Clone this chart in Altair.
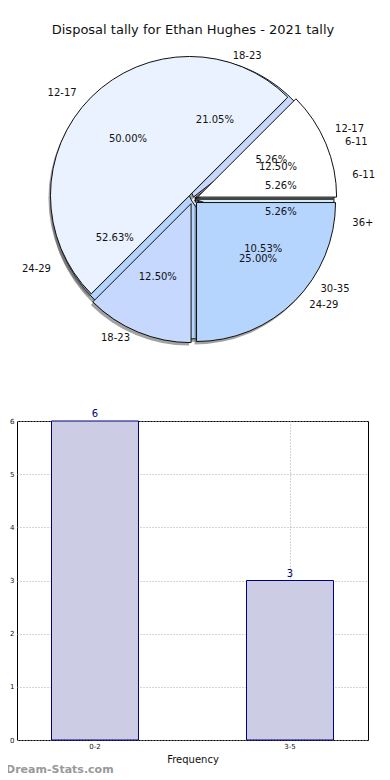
import math
import altair as alt
import numpy as np
import pandas as pd

# ---------------- data ----------------
title_text = "Disposal tally for Ethan Hughes - 2021 tally"

# pie drawn on top (8 entries)
pie_a_labels = ["6-11", "12-17", "18-23", "24-29"]
pie_a_counts = [1, 4, 1, 2]

# pie drawn underneath (19 entries)
pie_b_labels = ["6-11", "12-17", "18-23", "24-29", "30-35", "36+"]
pie_b_counts = [1, 1, 4, 10, 2, 1]

category_order = ["6-11", "12-17", "18-23", "24-29", "30-35", "36+"]
category_colors = ["#FFFFFF", "#EAF1FF", "#C6D8FE", "#B6D5FE", "#A9CCF8", "#D3EEF2"]

bar_labels = ["0-2", "3-5"]
bar_values = [6, 3]
watermark = "Dream-Stats.com"


def pie_frame(labels, counts):
    c = np.array(counts, dtype=float)
    tot = c.sum()
    end = np.cumsum(c) / tot
    start = end - c / tot
    return pd.DataFrame({
        "cat": labels,
        "count": counts,
        "start": start,
        "end": end,
        "mid": (start + end) / 2,
        "pct": [f"{v * 100 / tot:.2f}%" for v in c],
    })


df_a = pie_frame(pie_a_labels, pie_a_counts)
df_b = pie_frame(pie_b_labels, pie_b_counts)

# ---------------- pie panel ----------------
PANEL_W = 351
CX, CY, R = 176, 191, 139
RX, RY = 145, 132  # label ellipse (reference pie is slightly oval)
FONT = "DejaVu Sans"

theta_scale = alt.Scale(domain=[0, 1], range=[2.5 * math.pi, 0.5 * math.pi])
color_scale = alt.Scale(domain=category_order, range=category_colors)


def centered(chart, explode, dx=0, dy=0):
    return chart.transform_calculate(
        cx=f"{CX + dx} + {explode}*cos(2*PI*datum.mid)",
        cy=f"{CY + dy} - {explode}*sin(2*PI*datum.mid)",
    ).encode(
        x=alt.X("cx:Q", scale=None, axis=None),
        y=alt.Y("cy:Q", scale=None, axis=None),
    )


def placed(chart, explode, k):
    return chart.transform_calculate(
        tx=f"{CX} + {explode}*cos(2*PI*datum.mid) + {k * RX}*cos(2*PI*datum.mid)",
        ty=f"{CY} - {explode}*sin(2*PI*datum.mid) - {k * RY}*sin(2*PI*datum.mid)",
    ).encode(
        x=alt.X("tx:Q", scale=None, axis=None),
        y=alt.Y("ty:Q", scale=None, axis=None),
    )


def wedges(df, explode):
    base = alt.Chart(df)
    shadow = centered(
        base.mark_arc(radius=R, color="#555555", opacity=0.55),
        explode, dx=-2, dy=3,
    ).encode(
        theta=alt.Theta("start:Q", scale=theta_scale),
        theta2=alt.Theta2("end:Q"),
    )
    arcs = centered(
        base.mark_arc(radius=R, stroke="#111111", strokeWidth=1),
        explode,
    ).encode(
        theta=alt.Theta("start:Q", scale=theta_scale),
        theta2=alt.Theta2("end:Q"),
        color=alt.Color("cat:N", scale=color_scale, legend=None),
    )
    return shadow, arcs


def labels(df, explode):
    base = alt.Chart(df)
    style = dict(baseline="middle", fontSize=10, font=FONT, color="#111111")
    right = placed(
        base.transform_filter("cos(2*PI*datum.mid) >= 0").mark_text(align="left", **style),
        explode, 1.1,
    ).encode(text="cat:N")
    left = placed(
        base.transform_filter("cos(2*PI*datum.mid) < 0").mark_text(align="right", **style),
        explode, 1.1,
    ).encode(text="cat:N")
    pct = placed(
        base.mark_text(align="center", **style),
        explode, 0.6,
    ).encode(text="pct:N")
    return right, left, pct


sh_b, arc_b = wedges(df_b, 2)
sh_a, arc_a = wedges(df_a, 5)
lr_b, ll_b, pc_b = labels(df_b, 2)
lr_a, ll_a, pc_a = labels(df_a, 5)

title_mark = alt.Chart(pd.DataFrame({"t": [title_text]})).mark_text(
    fontSize=13, font=FONT, color="#111111", align="center", baseline="middle"
).encode(text="t:N", x=alt.value(CX), y=alt.value(22))

pie_panel = alt.layer(
    sh_b, arc_b, sh_a, arc_a, lr_b, ll_b, pc_b, lr_a, ll_a, pc_a, title_mark
).resolve_scale(theta="shared").properties(
    width=PANEL_W, height=390, view=alt.ViewBackground(strokeOpacity=0)
)

# ---------------- bar panel ----------------
bar_df = pd.DataFrame({"interval": bar_labels, "value": bar_values})

x_enc = alt.X(
    "interval:N",
    sort=bar_labels,
    scale=alt.Scale(domain=bar_labels, paddingInner=0.554, paddingOuter=0.177),
    axis=alt.Axis(
        title="Frequency", labelAngle=0, labelFontSize=7, titleFontSize=10,
        titleFontWeight="normal", grid=True, gridDash=[1, 2], gridColor="#aaaaaa",
        bandPosition=0.5, ticks=False, domain=False, labelPadding=2, titlePadding=5,
        labelColor="#111111", titleColor="#111111", labelFont=FONT, titleFont=FONT,
    ),
)
y_scale = alt.Scale(domain=[0, 6], nice=False)
y_enc = alt.Y(
    "value:Q",
    scale=y_scale,
    axis=alt.Axis(
        title="Stat intervals", values=[0, 1, 2, 3, 4, 5, 6], format="d",
        labelFontSize=7, titleFontSize=10, titleFontWeight="normal",
        grid=True, gridDash=[1, 2], gridColor="#aaaaaa", ticks=False, domain=False,
        labelPadding=3, titlePadding=2, labelColor="#111111", titleColor="#111111",
        labelFont=FONT, titleFont=FONT,
    ),
)

bars = alt.Chart(bar_df).mark_bar(
    color="#CCCCE5", stroke="#000080", strokeWidth=1
).encode(x=x_enc, y=y_enc)

bar_text = alt.Chart(bar_df).mark_text(
    color="#000080", baseline="bottom", dy=-2, fontSize=10, font=FONT
).encode(x=alt.X("interval:N", sort=bar_labels), y=alt.Y("value:Q"), text="value:Q")

wm = alt.Chart(pd.DataFrame({"t": [watermark]})).mark_text(
    color="#999999", fontSize=11, fontWeight="bold", font=FONT, align="left", baseline="middle"
).encode(text="t:N", x=alt.value(-11), y=alt.value(349))

bar_panel = alt.layer(bars, bar_text, wm).properties(
    width=351, height=319,
    view=alt.ViewBackground(stroke="#000000", strokeWidth=1),
)

chart = alt.vconcat(pie_panel, bar_panel, spacing=10).properties(
    padding={"left": -11, "top": 0, "right": 0, "bottom": 0}
).configure(font=FONT)

chart.save("out.html", embed_options={"renderer": "svg", "actions": False})
